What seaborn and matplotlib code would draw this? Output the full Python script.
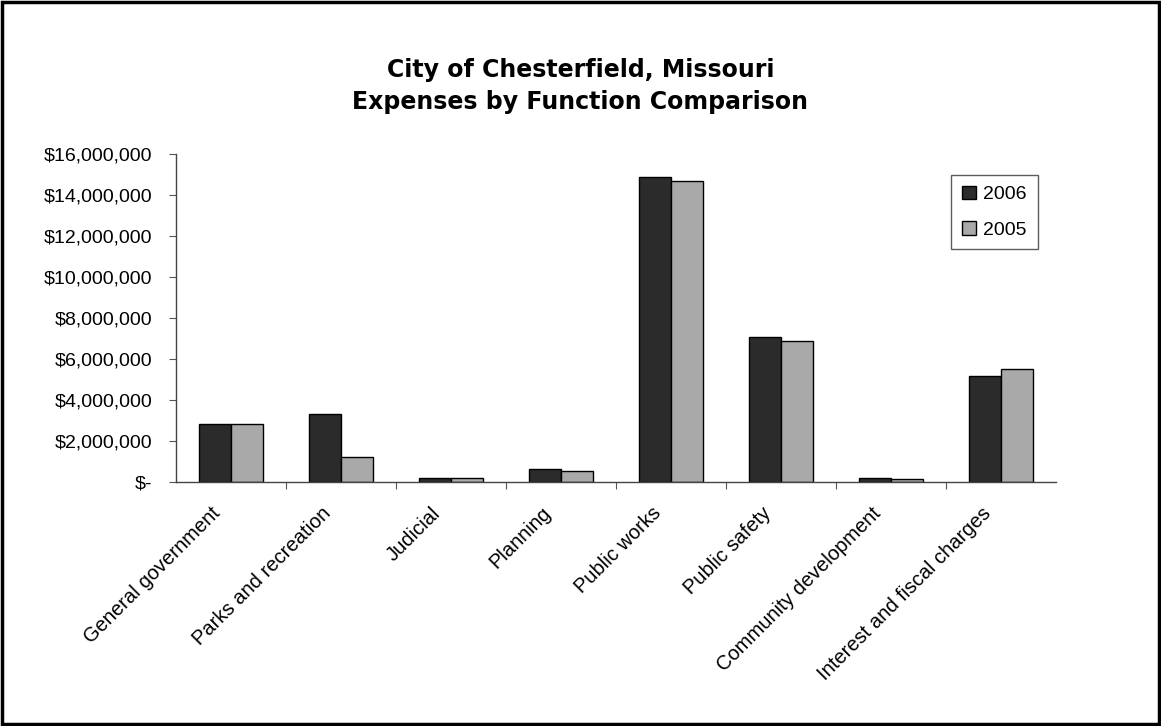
import numpy as np
import pandas as pd
import seaborn as sns
import matplotlib.pyplot as plt
import matplotlib.transforms as mtransforms
from matplotlib.ticker import FuncFormatter, FixedLocator
from matplotlib.patches import Rectangle

# expenses by function
functions = ['General government', 'Parks and recreation', 'Judicial', 'Planning',
             'Public works', 'Public safety', 'Community development',
             'Interest and fiscal charges']
exp_2006 = [2820000, 3300000, 200000, 650000, 14880000, 7070000, 210000, 5190000]
exp_2005 = [2830000, 1200000, 210000, 550000, 14660000, 6860000, 130000, 5500000]
years = ['2006', '2005']

df = pd.DataFrame({'function': functions * 2,
                   'year': ['2006'] * len(functions) + ['2005'] * len(functions),
                   'expense': exp_2006 + exp_2005})

sns.set_style('white')
plt.rcParams['font.family'] = ['Liberation Sans', 'DejaVu Sans']
plt.rcParams['text.color'] = 'black'
plt.rcParams['xtick.color'] = 'black'
plt.rcParams['ytick.color'] = 'black'

fig = plt.figure(figsize=(11.61, 7.26), dpi=100)
ax = fig.add_axes([0.1516, 0.336, 0.758, 0.452])

sns.barplot(data=df, x='function', y='expense', hue='year', hue_order=years,
            palette=['#2b2b2b', '#a9a9a9'], width=0.58, edgecolor='black',
            linewidth=1.0, saturation=1, ax=ax)

ax.set_ylim(0, 16000000)
ax.set_xlim(-0.5, len(functions) - 0.5)
ax.set_yticks(np.arange(0, 16000001, 2000000))

def money(v, pos):
    if v == 0:
        return '$-'
    return '${:,.0f}'.format(v)

ax.yaxis.set_major_formatter(FuncFormatter(money))
ax.tick_params(axis='y', labelsize=14, length=5, width=0.8, color='#555555',
               labelcolor='black', left=True, pad=12)
ax.tick_params(axis='x', length=0, pad=4, labelcolor='black')
ax.xaxis.set_minor_locator(FixedLocator(np.arange(0.5, len(functions) - 0.5, 1)))
ax.tick_params(axis='x', which='minor', length=5, width=0.8, color='#555555', bottom=True)
ax.set_xticks(range(len(functions)))
ax.set_xticklabels(functions, rotation=45, ha='right', rotation_mode='anchor', fontsize=14.5)
shift = mtransforms.ScaledTranslation(-20 / 100, -16 / 100, fig.dpi_scale_trans)
for lbl in ax.get_xticklabels():
    lbl.set_transform(lbl.get_transform() + shift)

ax.set_xlabel('')
ax.set_ylabel('')
for s in ['top', 'right']:
    ax.spines[s].set_visible(False)
for s in ['left', 'bottom']:
    ax.spines[s].set_color('#444444')
    ax.spines[s].set_linewidth(1.0)

leg = ax.legend(title=None, loc='upper right', bbox_to_anchor=(0.99, 0.965), fontsize=14,
                frameon=True, fancybox=False, edgecolor='#333333', handlelength=0.7,
                handleheight=0.7, handletextpad=0.4, labelspacing=0.9, borderpad=0.55)
leg.get_frame().set_linewidth(1.0)

fig.text(0.5, 0.8815, 'City of Chesterfield, Missouri\nExpenses by Function Comparison',
         ha='center', va='center', fontsize=17, fontweight='bold', linespacing=1.45,
         family='DejaVu Sans', color='black')

fig.patches.append(Rectangle((0.002, 0.003), 0.996, 0.994, transform=fig.transFigure,
                             fill=False, edgecolor='black', linewidth=2.5))

fig.savefig('out.png', dpi=100)
